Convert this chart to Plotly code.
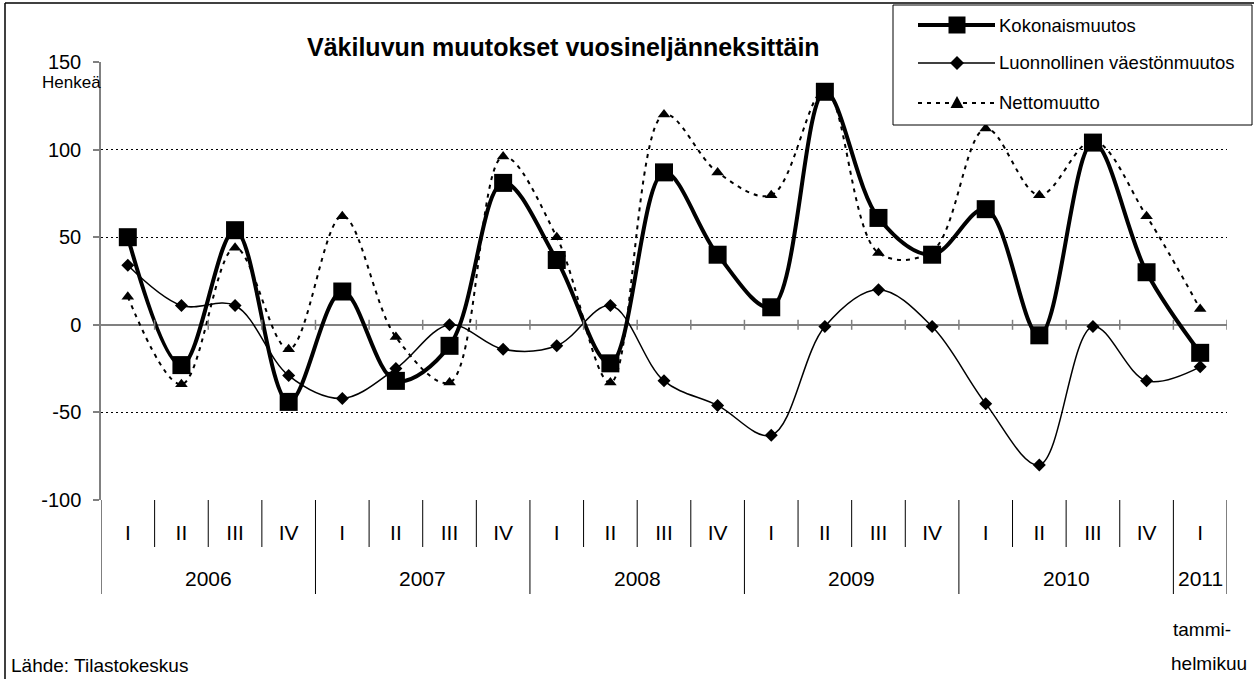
import plotly.graph_objects as go

# ---------------- data ----------------
quarters = ["I", "II", "III", "IV", "I", "II", "III", "IV", "I", "II", "III", "IV",
            "I", "II", "III", "IV", "I", "II", "III", "IV", "I"]
years = ["2006", "2007", "2008", "2009", "2010", "2011"]
year_counts = [4, 4, 4, 4, 4, 1]

kokonaismuutos = [50, -23, 54, -44, 19, -32, -12, 81, 37, -22, 87, 40,
                  10, 133, 61, 40, 66, -6, 104, 30, -16]
luonnollinen = [34, 11, 11, -29, -42, -25, 0, -14, -12, 11, -32, -46,
                -63, -1, 20, -1, -45, -80, -1, -32, -24]
nettomuutto = [16, -34, 44, -14, 62, -7, -33, 96, 50, -33, 120, 87,
               74, 134, 41, 42, 112, 74, 105, 62, 9]

series_names = ["Kokonaismuutos", "Luonnollinen väestönmuutos", "Nettomuutto"]
y_ticks = [-100, -50, 0, 50, 100, 150]
y_tick_labels = ["-100", "-50", "0", "50", "100", "150"]

title_text = "Väkiluvun muutokset vuosineljänneksittäin"
unit_text = "Henkeä"
source_text = "Lähde: Tilastokeskus"
note_lines = ["tammi-", "helmikuu"]

# ---------------- layout geometry ----------------
WIDTH, HEIGHT = 1254, 679
L, T, PW, PH = 101, 62, 1126, 438
R = WIDTH - L - PW
B = HEIGHT - T - PH

FONT = "Liberation Sans, Arial, sans-serif"


def px_x(px):
    return (px - L) / PW


def px_y(py):
    return (T + PH - py) / PH


x_idx = list(range(len(quarters)))

fig = go.Figure()

fig.add_trace(go.Scatter(
    x=x_idx, y=kokonaismuutos, name=series_names[0], mode="lines+markers",
    line=dict(color="black", width=4, shape="spline", smoothing=1),
    marker=dict(symbol="square", size=18, color="black"),
    showlegend=False))
fig.add_trace(go.Scatter(
    x=x_idx, y=luonnollinen, name=series_names[1], mode="lines+markers",
    line=dict(color="black", width=1.5, shape="spline", smoothing=1),
    marker=dict(symbol="diamond", size=10, color="black"),
    showlegend=False))
fig.add_trace(go.Scatter(
    x=x_idx, y=nettomuutto, name=series_names[2], mode="lines+markers",
    line=dict(color="black", width=2, shape="spline", smoothing=1, dash="4px,5px"),
    marker=dict(symbol="triangle-up", size=11, color="black"),
    showlegend=False))

shapes = []
n = len(quarters)

# category dividers below the plot
year_bounds = [0]
for c in year_counts:
    year_bounds.append(year_bounds[-1] + c)
for k in range(n + 1):
    is_year = k in year_bounds
    shapes.append(dict(type="line", xref="x", yref="paper",
                       x0=k - 0.5, x1=k - 0.5, y0=0,
                       y1=px_y(594) if is_year else px_y(547),
                       line=dict(color="black", width=1)))

# tick marks on the zero line
for k in range(1, n + 1):
    shapes.append(dict(type="line", xref="x", yref="y", ysizemode="pixel", yanchor=0,
                       x0=k - 0.5, x1=k - 0.5, y0=-5, y1=5,
                       line=dict(color="#808080", width=1.5)))

# outer chart frame (top and left edges)
shapes.append(dict(type="line", xref="paper", yref="paper",
                   x0=px_x(5), x1=px_x(1260), y0=px_y(3), y1=px_y(3),
                   line=dict(color="black", width=1.5)))
shapes.append(dict(type="line", xref="paper", yref="paper",
                   x0=px_x(5), x1=px_x(5), y0=px_y(3), y1=px_y(690),
                   line=dict(color="black", width=1.5)))

# legend box
shapes.append(dict(type="rect", xref="paper", yref="paper", layer="above",
                   x0=px_x(893), x1=px_x(1252), y0=px_y(125), y1=px_y(5),
                   fillcolor="white", line=dict(color="black", width=1)))
rows = [25, 63, 103]
line_styles = [dict(width=4, dash="solid"), dict(width=1.5, dash="solid"),
               dict(width=2, dash="4px,5px")]
marker_paths = [
    None,
    "M0,7 L7,0 L0,-7 L-7,0 Z",
    "M-6.5,-5 L6.5,-5 L0,7 Z",
]
for i, row in enumerate(rows):
    shapes.append(dict(type="line", xref="paper", yref="paper", layer="above",
                       x0=px_x(918), x1=px_x(995), y0=px_y(row), y1=px_y(row),
                       line=dict(color="black", width=line_styles[i]["width"],
                                 dash=line_styles[i]["dash"])))
    if i == 0:
        shapes.append(dict(type="rect", xref="paper", yref="paper", layer="above",
                           xsizemode="pixel", ysizemode="pixel",
                           xanchor=px_x(957), yanchor=px_y(row),
                           x0=-8.5, x1=8.5, y0=-8.5, y1=8.5,
                           fillcolor="black", line=dict(width=0)))
    else:
        shapes.append(dict(type="path", xref="paper", yref="paper", layer="above",
                           xsizemode="pixel", ysizemode="pixel",
                           xanchor=px_x(957), yanchor=px_y(row),
                           path=marker_paths[i],
                           fillcolor="black", line=dict(width=0)))

annotations = []
for i, row in enumerate(rows):
    annotations.append(dict(text=series_names[i], xref="paper", yref="paper",
                            x=px_x(997), y=px_y(row), xanchor="left", yanchor="middle",
                            showarrow=False, font=dict(family=FONT, size=18.5, color="black")))

# year labels
for j, yr in enumerate(years):
    mid = (year_bounds[j] + year_bounds[j + 1] - 1) / 2
    annotations.append(dict(text=yr, xref="x", yref="paper", x=mid, y=px_y(578),
                            xanchor="center", yanchor="middle", showarrow=False,
                            font=dict(family=FONT, size=21, color="black")))

annotations.append(dict(text="<b>" + title_text + "</b>", xref="paper", yref="paper",
                        x=px_x(563), y=px_y(47), xanchor="center", yanchor="middle",
                        showarrow=False, font=dict(family=FONT, size=25, color="black")))
annotations.append(dict(text=unit_text, xref="paper", yref="paper",
                        x=px_x(103), y=px_y(83), xanchor="right", yanchor="middle",
                        showarrow=False, font=dict(family=FONT, size=17, color="black")))
annotations.append(dict(text=source_text, xref="paper", yref="paper",
                        x=px_x(9), y=px_y(665), xanchor="left", yanchor="middle",
                        showarrow=False, font=dict(family=FONT, size=19, color="black")))
annotations.append(dict(text=note_lines[0], xref="paper", yref="paper",
                        x=px_x(1171), y=px_y(629), xanchor="left", yanchor="middle",
                        showarrow=False, font=dict(family=FONT, size=19, color="black")))
annotations.append(dict(text=note_lines[1], xref="paper", yref="paper",
                        x=px_x(1169), y=px_y(663), xanchor="left", yanchor="middle",
                        showarrow=False, font=dict(family=FONT, size=19, color="black")))

fig.update_layout(
    width=WIDTH, height=HEIGHT,
    margin=dict(l=L, r=R, t=T, b=B, pad=0),
    paper_bgcolor="white", plot_bgcolor="white",
    font=dict(family=FONT, size=20, color="black"),
    showlegend=False,
    shapes=shapes,
    annotations=annotations,
)
fig.update_xaxes(
    range=[-0.5, n - 0.5], tickmode="array", tickvals=x_idx, ticktext=quarters,
    showgrid=False, zeroline=False, showline=False, ticks="",
    ticklabelstandoff=18, tickfont=dict(family=FONT, size=21, color="black"),
)
fig.update_yaxes(
    range=[-100, 150], tickmode="array", tickvals=y_ticks, ticktext=y_tick_labels,
    showline=True, linecolor="#808080", linewidth=1.5,
    ticks="outside", ticklen=6, tickcolor="#808080", tickwidth=1.5,
    ticklabelstandoff=8,
    showgrid=True, gridcolor="black", gridwidth=1, griddash="2px,3px",
    zeroline=True, zerolinecolor="#808080", zerolinewidth=2,
    tickfont=dict(family=FONT, size=20, color="black"),
)

fig.write_html("out.html", include_plotlyjs=True, config={"displayModeBar": False},
               post_script="document.body.style.margin='0';document.body.style.overflow='hidden';")
